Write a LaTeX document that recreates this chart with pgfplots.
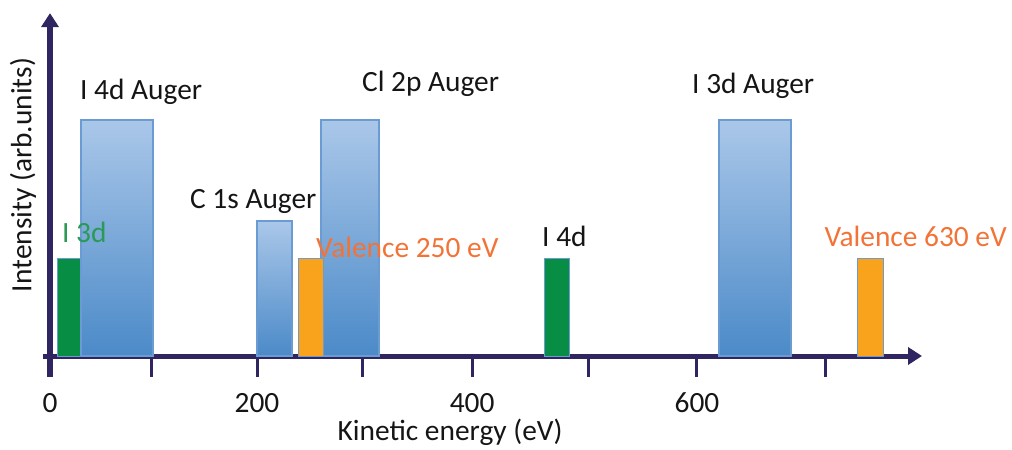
\documentclass[border=0pt]{standalone}
\usepackage{fontspec}
\setmainfont{Carlito}
\usepackage{pgfplots}
\pgfplotsset{compat=1.18}
\usetikzlibrary{arrows.meta}
\definecolor{axiscol}{HTML}{2F2561}
\definecolor{blueTop}{HTML}{AAC7E9}
\definecolor{blueBot}{HTML}{4B8AC8}
\definecolor{barborder}{HTML}{6A9CD3}
\definecolor{gbar}{HTML}{078D44}
\definecolor{obar}{HTML}{F8A31B}
\definecolor{gtext}{HTML}{2A9A55}
\definecolor{otext}{HTML}{F37336}
\definecolor{ltext}{HTML}{151515}
\begin{document}
\begin{tikzpicture}[font=\fontsize{29.5}{33}\selectfont]
\begin{axis}[
  scale only axis,
  x=1.0783bp, y=23.6bp,
  xmin=-6.5, xmax=808.7,
  ymin=-0.89, ymax=14.53,
  enlargelimits=false,
  clip=false,
  axis lines=middle,
  axis line style={line width=5bp, color=axiscol, -{Triangle[length=14bp,width=17bp]}},
  hide obscured x ticks=false,
  xtick={0,93.7,192,289.4,391.5,499,600,719},
  xticklabels={0,,200,,400,,600,},
  ytick=\empty,
  tick align=outside,
  major tick length=21bp,
  tick style={line width=3bp, color=axiscol},
  xticklabel style={anchor=base, inner sep=0pt, yshift=-35bp, text=ltext},
]
% green I 3d
\addplot[draw=barborder, line width=1bp, fill=gbar] coordinates {(7.4,0) (7.4,4.15) (29.7,4.15) (29.7,0)} --cycle;
% I 4d Auger
\addplot[draw=barborder, line width=1.2bp, top color=blueTop, bottom color=blueBot] coordinates {(28.7,0) (28.7,10) (95.5,10) (95.5,0)} --cycle;
% C 1s Auger
\addplot[draw=barborder, line width=1.2bp, top color=blueTop, bottom color=blueBot] coordinates {(192,0) (192,5.72) (224.4,5.72) (224.4,0)} --cycle;
% Cl 2p Auger
\addplot[draw=barborder, line width=1.2bp, top color=blueTop, bottom color=blueBot] coordinates {(251.3,0) (251.3,10) (305.1,10) (305.1,0)} --cycle;
% Valence 250 eV
\addplot[draw=barborder, line width=1bp, fill=obar] coordinates {(230.9,0) (230.9,4.15) (253.2,4.15) (253.2,0)} --cycle;
% green I 4d
\addplot[draw=barborder, line width=1bp, fill=gbar] coordinates {(459,0) (459,4.15) (482.2,4.15) (482.2,0)} --cycle;
% I 3d Auger
\addplot[draw=barborder, line width=1.2bp, top color=blueTop, bottom color=blueBot] coordinates {(620.4,0) (620.4,10) (687.2,10) (687.2,0)} --cycle;
% Valence 630 eV
\addplot[draw=barborder, line width=1bp, fill=obar] coordinates {(749.3,0) (749.3,4.15) (773.4,4.15) (773.4,0)} --cycle;

\node[anchor=base west, inner sep=0pt, text=ltext] at (axis cs:27.8,10.85) {I 4d Auger};
\node[anchor=base west, inner sep=0pt, text=ltext] at (axis cs:129.8,6.27) {C 1s Auger};
\node[anchor=base west, inner sep=0pt, text=gtext] at (axis cs:11.1,4.79) {I 3d};
\node[anchor=base west, inner sep=0pt, text=otext] at (axis cs:246.7,4.19) {Valence 250 eV};
\node[anchor=base west, inner sep=0pt, text=ltext] at (axis cs:289.3,11.19) {Cl 2p Auger};
\node[anchor=base west, inner sep=0pt, text=ltext] at (axis cs:456.3,4.62) {I 4d};
\node[anchor=base west, inner sep=0pt, text=ltext] at (axis cs:595.4,11.14) {I 3d Auger};
\node[anchor=base east, inner sep=0pt, text=otext] at (axis cs:887.5,4.62) {Valence 630 eV};
\node[anchor=base, inner sep=0pt, text=ltext] at (axis cs:371,-3.58) {Kinetic energy (eV)};
\node[rotate=90, anchor=center, inner sep=0pt, text=ltext] at (axis cs:-25,7.67) {Intensity (arb.units)};

\coordinate (bl) at (axis cs:-46.37,-3.983);
\coordinate (tr) at (axis cs:892.15,15.085);
\end{axis}
\pgfresetboundingbox
\useasboundingbox (bl) rectangle (tr);
\end{tikzpicture}
\end{document}
